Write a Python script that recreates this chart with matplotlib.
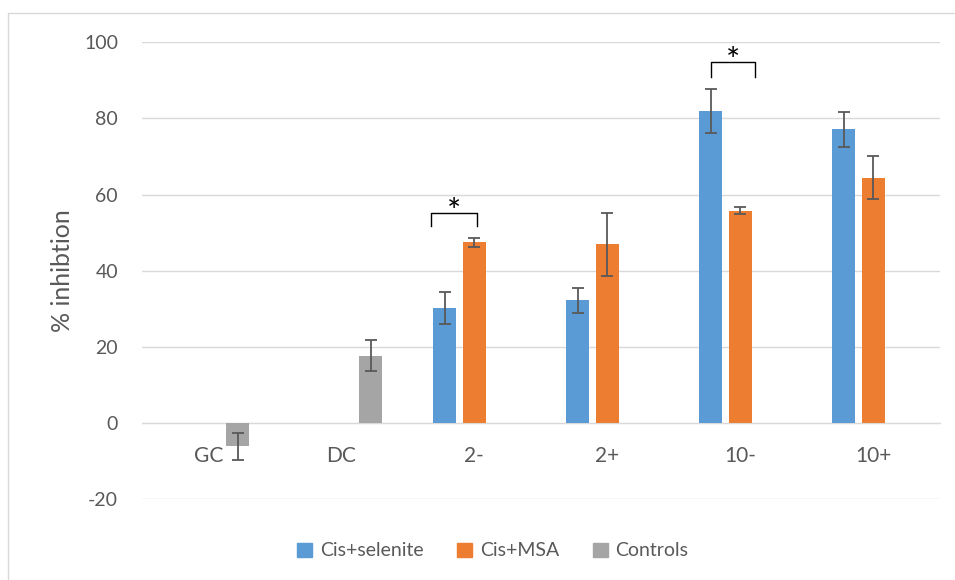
import numpy as np
import matplotlib.pyplot as plt
from matplotlib.patches import Patch, Rectangle

plt.rcParams['font.family'] = ['Lato', 'DejaVu Sans']
plt.rcParams['axes.unicode_minus'] = False

categories = ['GC', 'DC', '2-', '2+', '10-', '10+']
selenite = [np.nan, np.nan, 30.2, 32.2, 82.0, 77.1]
selenite_err = [np.nan, np.nan, 4.1, 3.3, 5.7, 4.7]
msa = [np.nan, np.nan, 47.5, 46.9, 55.8, 64.4]
msa_err = [np.nan, np.nan, 1.2, 8.2, 0.9, 5.7]
controls = [-6.2, 17.7, np.nan, np.nan, np.nan, np.nan]
controls_err = [3.6, 4.0, np.nan, np.nan, np.nan, np.nan]

# significance brackets: (x left, x right, top, leg bottom)
brackets = [(1.677, 2.023, 55.2, 51.7), (3.78, 4.107, 94.8, 90.9)]

BLUE = '#5B9BD5'
ORANGE = '#ED7D31'
GRAY = '#A5A5A5'
TXT = '#595959'

fig = plt.figure(figsize=(9.55, 5.8), dpi=100)
ax = fig.add_axes([0.1484, 0.1397, 0.8359, 0.7873])

# light frame of the chart area (cropped on right/bottom)
fig.patches.append(Rectangle((8 / 955, -0.1), 2, (580 - 13) / 580 + 0.1,
                             transform=fig.transFigure, fill=False,
                             edgecolor='#D9D9D9', linewidth=1))

x = np.arange(len(categories))
slot = 0.223
w = 0.173
err_kw = dict(ecolor='#595959', elinewidth=1.3, capsize=4.5, capthick=1.3)

ax.bar(x - slot, selenite, w, yerr=selenite_err, color=BLUE, error_kw=err_kw,
       label='Cis+selenite', zorder=3)
ax.bar(x, msa, w, yerr=msa_err, color=ORANGE, error_kw=err_kw,
       label='Cis+MSA', zorder=3)
ax.bar(x + slot, controls, w, yerr=controls_err, color=GRAY, error_kw=err_kw,
       label='Controls', zorder=3)

for x0, x1, top, bot in brackets:
    ax.plot([x0, x0, x1, x1], [bot, top, top, bot], color='black',
            linewidth=1.0, zorder=4, clip_on=False)
    ax.text((x0 + x1) / 2, top - 2.4, '*', ha='center', va='baseline',
            fontsize=24, color='black')

ax.set_xlim(-0.5, len(categories) - 0.5)
ax.set_ylim(-20, 100)
ax.set_yticks(np.arange(-20, 101, 20))
ax.set_xticks(x)
ax.set_xticklabels(categories)

ax.grid(axis='y', color='#D9D9D9', linewidth=1)
ax.set_axisbelow(True)
for s in ['top', 'right', 'left']:
    ax.spines[s].set_visible(False)
ax.spines['bottom'].set_position(('data', 0))
ax.spines['bottom'].set_color('#D9D9D9')
ax.tick_params(axis='both', length=0, labelcolor=TXT)
ax.tick_params(axis='x', pad=17, labelsize=15)
ax.tick_params(axis='y', pad=17, labelsize=14)

ax.set_ylabel('% inhibtion', fontsize=18, color=TXT)
ax.yaxis.set_label_coords(-0.085, 0.5)

handles = [Patch(color=BLUE), Patch(color=ORANGE), Patch(color=GRAY)]
fig.legend(handles, ['Cis+selenite', 'Cis+MSA', 'Controls'], ncol=3,
           loc='center', bbox_to_anchor=(0.516, 0.05), frameon=False,
           fontsize=14, labelcolor=TXT, handlelength=0.75, handleheight=0.75,
           handletextpad=0.4, columnspacing=1.75)

fig.savefig('out.png', dpi=100)
